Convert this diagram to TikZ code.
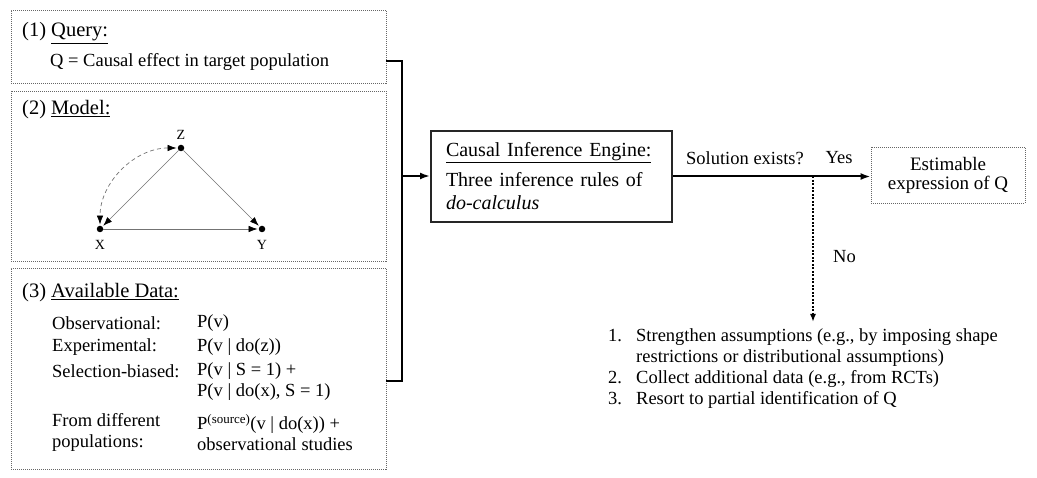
\documentclass[tikz,border=0pt]{standalone}
\usepackage{fontspec}
\setmainfont{Liberation Serif}
\usetikzlibrary{arrows.meta}
\newcommand{\headtxt}{\fontsize{20.5}{24}\selectfont}
\newcommand{\bodytxt}{\fontsize{18.5}{21}\selectfont}
\newcommand{\nodetxt}{\fontsize{14}{16}\selectfont}

\begin{document}
\begin{tikzpicture}[x=1pt,y=-1pt,
    panel/.style={draw=black!60,line width=0.8pt,dash pattern=on 1pt off 1pt,inner sep=0},
    txt/.style={anchor=west,inner sep=0,font=\bodytxt,align=left},
    dot/.style={circle,fill,inner sep=0,minimum size=6.5pt},
    edge/.style={draw=black!55,line width=0.7pt,-{Latex[length=9pt,width=6.5pt,black]},shorten >=1pt},
    heavy/.style={line width=2pt}]
    \useasboundingbox (0,0) rectangle (1037,478);

    \node[panel,minimum width=375,minimum height=73] (query) at (198.5,46.5) {};
    \node[panel,minimum width=375,minimum height=170] (model) at (198.5,176) {};
    \node[panel,minimum width=375,minimum height=201] (data) at (198.5,368.5) {};

    \node[txt,font=\headtxt] (qhead) at (22,33) {(1) \underline{Query:}};
    \node[txt] (qtext) at (50,62) {Q = Causal effect in target population};

    \node[txt,font=\headtxt] (mhead) at (22,110) {(2) \underline{Model:}};
    \node[dot] (z) at (181,148) {};
    \node[dot] (x) at (100,229) {};
    \node[dot] (y) at (262,229) {};
    \node[font=\nodetxt,inner sep=0] (zlab) at (181,135) {Z};
    \node[font=\nodetxt,inner sep=0] (xlab) at (100,245) {X};
    \node[font=\nodetxt,inner sep=0] (ylab) at (262,245) {Y};
    \draw[edge] (z) -- (x);
    \draw[edge] (z) -- (y);
    \draw[edge] (x) -- (y);
    \draw[edge,dash pattern=on 4pt off 3pt,{Latex[length=9pt,width=6.5pt,black]}-{Latex[length=9pt,width=6.5pt,black]},shorten <=1pt]
      (z) to[out=180,in=90] (x);

    \node[txt,font=\headtxt] (dhead) at (22,293) {(3) \underline{Available Data:}};
    \node[txt] (obs) at (52,323) {Observational:};
    \node[txt] (obsv) at (197,323) {P(v)};
    \node[txt] (expm) at (52,347) {Experimental:};
    \node[txt] (expmv) at (197,347) {P(v | do(z))};
    \node[txt] (sel) at (52,371) {Selection-biased:};
    \node[txt] (selv) at (197,381.5) {P(v | S = 1) +\\P(v | do(x), S = 1)};
    \node[txt] (pop) at (52,432.5) {From different\\populations:};
    \node[txt] (popv) at (197,432.5) {P\textsuperscript{(source)}(v | do(x)) +\\observational studies};

    \coordinate (qs) at (386,61);
    \coordinate (ds) at (386,381);
    \coordinate (join) at (402,176);
    \draw[heavy] (qs) -| (join) |- (ds);

    \node[draw=black!85,line width=2pt,minimum width=241,minimum height=91,text width=211,inner xsep=15,align=left,
      font=\fontsize{20}{23}\selectfont] (engine) at (551.5,176.5)
      {\underline{Causal Inference Engine:}\\[7pt]
       Three inference rules of\\
       \textit{do-calculus}};
    \draw[heavy,-{Latex[length=10pt,width=7pt]}] (join) -- (join -| engine.west);

    \node[panel,minimum width=154,minimum height=56,align=center,font=\fontsize{19}{19}\selectfont] (estim) at (948,175)
      {Estimable\\expression of Q};
    \draw[heavy,-{Latex[length=10pt,width=7pt]}] (engine.east) -- (engine.east -| estim.west);
    \node[font=\bodytxt,inner sep=0] (sol) at (745,158) {Solution exists?};
    \node[font=\bodytxt,inner sep=0] (yes) at (839,158) {Yes};

    \coordinate (split) at (813,176.5);
    \node[txt] (nolab) at (833,257) {No};
    \node[anchor=north west,inner sep=0,font=\bodytxt] (todo) at (608,327)
      {\begin{tabular}{@{}p{28pt}@{}l@{}}
        1. & Strengthen assumptions (e.g., by imposing shape\\
           & restrictions or distributional assumptions)\\
        2. & Collect additional data (e.g., from RCTs)\\
        3. & Resort to partial identification of Q
       \end{tabular}};
    \draw[line width=2pt,dash pattern=on 2pt off 1.5pt,-{Latex[length=8pt,width=6pt]},shorten >=5pt] (split) -- (split |- todo.north);
  \end{tikzpicture}
\end{document}
